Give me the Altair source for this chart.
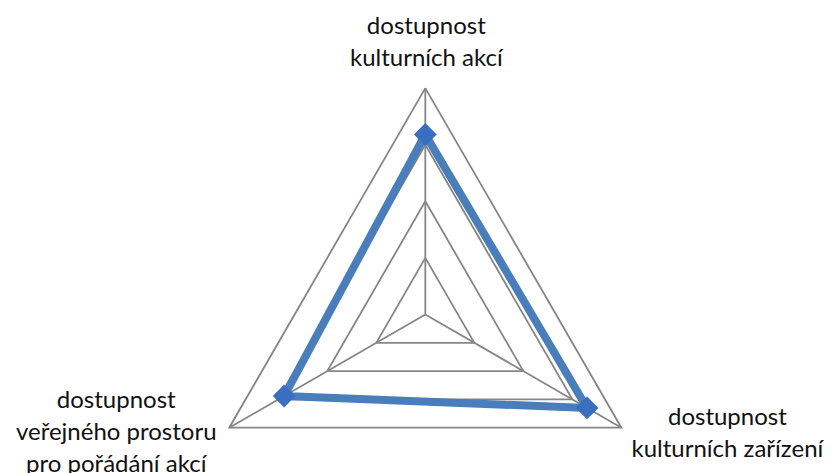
import math
import altair as alt
import pandas as pd

# ---- data ----
categories = [
    "dostupnost\nkulturních akcí",
    "dostupnost\nkulturních zařízení",
    "dostupnost\nveřejného prostoru\npro pořádání akcí",
]
values = [3.18, 3.30, 2.88]
grid_levels = [1, 2, 3, 4]
max_level = 4

n = len(categories)

# series polygon (closed)
series_rows = [{"cat": categories[i], "value": values[i], "idx": i} for i in range(n)]
series_closed = series_rows + [{**series_rows[0], "idx": n}]
series_df = pd.DataFrame(series_closed)
points_df = pd.DataFrame(series_rows)

# grid polygons (closed)
grid_rows = []
for lv in grid_levels:
    for i in range(n + 1):
        grid_rows.append({"level": lv, "idx": i})
grid_df = pd.DataFrame(grid_rows)

spoke_df = pd.DataFrame([{"cat": categories[i], "idx": i, "value": max_level} for i in range(n)])

XDOM = [-7.373, 7.044]
YDOM = [-2.800, 5.415]
xs = alt.Scale(domain=XDOM, nice=False, zero=False)
ys = alt.Scale(domain=YDOM, nice=False, zero=False)

ANG = "datum.idx * 2 * PI / %d" % n


def polar(ch, rfield):
    return ch.transform_calculate(
        ang=ANG,
        px=f"datum.{rfield} * sin(datum.ang)",
        py=f"datum.{rfield} * cos(datum.ang)",
    )


GRID = "#868686"

grid = polar(alt.Chart(grid_df), "level").mark_line(
    color=GRID, strokeWidth=1.8
).encode(
    x=alt.X("px:Q", scale=xs, axis=None),
    y=alt.Y("py:Q", scale=ys, axis=None),
    detail="level:N",
    order="idx:Q",
)

spokes = polar(alt.Chart(spoke_df), "value").transform_calculate(
    zero="0"
).mark_rule(color=GRID, strokeWidth=1.8).encode(
    x=alt.X("zero:Q", scale=xs, axis=None),
    y=alt.Y("zero:Q", scale=ys, axis=None),
    x2="px:Q",
    y2="py:Q",
)

line = polar(alt.Chart(series_df), "value").mark_line(
    color="#4A7EBB", strokeWidth=8, strokeJoin="miter"
).encode(
    x=alt.X("px:Q", scale=xs, axis=None),
    y=alt.Y("py:Q", scale=ys, axis=None),
    order="idx:Q",
)

pts = polar(alt.Chart(points_df), "value").mark_point(
    shape="diamond", size=520, filled=True, color="#3A6FC0", opacity=1
).encode(
    x=alt.X("px:Q", scale=xs, axis=None),
    y=alt.Y("py:Q", scale=ys, axis=None),
)

label_style = [
    # (category index, align, dx, dy)
    (0, "center", 1, -54),
    (1, "center", 106, -3),
    (2, "center", -113, -20),
]

labels = []
for i, al, dx, dy in label_style:
    labels.append(
        polar(alt.Chart(spoke_df), "value")
        .transform_filter(f"datum.idx == {i}")
        .mark_text(
            align=al, baseline="alphabetic", dx=dx, dy=dy,
            font="Lato", fontSize=24, color="#111111",
            lineBreak="\n", lineHeight=32,
        )
        .encode(
            x=alt.X("px:Q", scale=xs, axis=None),
            y=alt.Y("py:Q", scale=ys, axis=None),
            text="cat:N",
        )
    )

chart = alt.layer(grid, spokes, line, pts, *labels).properties(
    width=816, height=465,
    autosize=alt.AutoSizeParams(type="none"),
    padding=0,
).configure_view(stroke=None)

chart.save("out.html", embed_options={"renderer": "svg", "actions": False})
